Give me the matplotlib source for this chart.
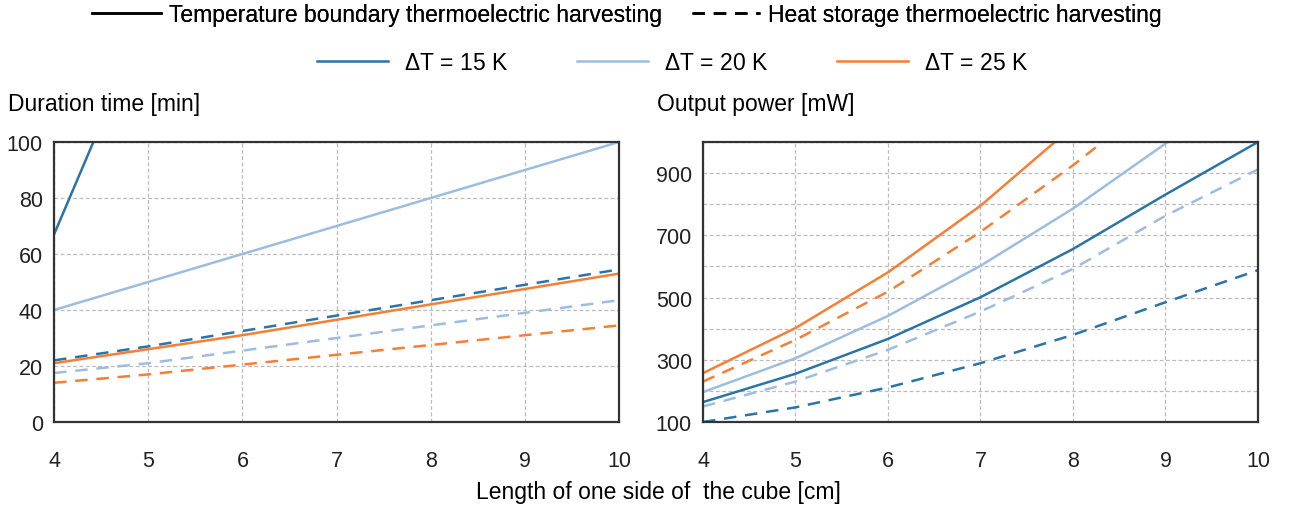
import matplotlib
matplotlib.use("Agg")
import matplotlib.pyplot as plt
from matplotlib.lines import Line2D
from matplotlib.ticker import MultipleLocator

plt.rcParams['font.family'] = ['Liberation Sans', 'DejaVu Sans']
plt.rcParams['mathtext.fontset'] = 'custom'
plt.rcParams['mathtext.it'] = 'Liberation Sans:italic'
plt.rcParams['mathtext.rm'] = 'Liberation Sans'

x = [4, 5, 6, 7, 8, 9, 10]
delta_labels = ['$\\mathit{Δ}$T = 15 K', '$\\mathit{Δ}$T = 20 K', '$\\mathit{Δ}$T = 25 K']
colors = ["#2a74a8", "#9dbde0", "#f47f35"]

# duration time [min]
dur_solid = [
    [67, 146, 230, 315, 400, 485, 570],
    [40, 50, 60, 70, 80, 90, 100],
    [21, 26, 31, 36.5, 42, 47.5, 53],
]
dur_dashed = [
    [22, 27, 32.5, 38, 43.5, 49, 54.5],
    [17.5, 21, 25.5, 30, 34.5, 39, 43.5],
    [14, 17, 20.5, 24, 27.5, 31, 34.5],
]

# output power [mW]
pow_solid = [
    [164, 255, 367, 501, 656, 831, 1000],
    [196, 305, 441, 602, 786, 995, 1220],
    [257, 402, 581, 795, 1050, 1320, 1620],
]
pow_dashed = [
    [100, 147, 211, 289, 380, 485, 588],
    [150, 230, 332, 455, 592, 763, 912],
    [230, 364, 519, 711, 925, 1160, 1400],
]

fig = plt.figure(figsize=(12.93, 5.10), dpi=100)
ax1 = fig.add_axes([0.0418, 0.1706, 0.437, 0.549])
ax2 = fig.add_axes([0.5437, 0.1706, 0.4292, 0.549])

for i in range(3):
    ax1.plot(x, dur_solid[i], color=colors[i], lw=1.8)
    ax1.plot(x, dur_dashed[i], color=colors[i], lw=1.8, dashes=(5, 3.5))
    ax2.plot(x, pow_solid[i], color=colors[i], lw=1.8)
    ax2.plot(x, pow_dashed[i], color=colors[i], lw=1.8, dashes=(5, 3.5))

ax1.set_ylim(0, 100)
ax1.yaxis.set_major_locator(MultipleLocator(20))
ax2.set_ylim(100, 1000)
ax2.set_yticks([100, 300, 500, 700, 900])
ax2.yaxis.set_minor_locator(MultipleLocator(100))

for ax in (ax1, ax2):
    ax.set_xlim(4, 10)
    ax.xaxis.set_major_locator(MultipleLocator(1))
    ax.grid(True, which='both', color='#bbbbbb', linestyle=(0, (3, 2)), lw=0.9)
    ax.tick_params(which='both', length=0, labelsize=15.5, colors='#222222')
    ax.tick_params(axis='y', pad=8)
    ax.tick_params(axis='x', pad=20)
    for s in ax.spines.values():
        s.set_color('#333333')
        s.set_linewidth(1.6)

fig.text(0.006, 0.795, "Duration time [min]", fontsize=16.5, ha='left', va='center')
fig.text(0.508, 0.795, "Output power [mW]", fontsize=16.5, ha='left', va='center')
fig.text(0.509, 0.035, "Length of one side of  the cube [cm]", fontsize=16.5,
         ha='center', va='center')

style_handles = [Line2D([], [], color='black', lw=1.8),
                 Line2D([], [], color='black', lw=1.8, dashes=(5, 3.5))]
leg1 = fig.legend(style_handles,
                  ["Temperature boundary thermoelectric harvesting",
                   "Heat storage thermoelectric harvesting"],
                  loc='center', bbox_to_anchor=(0.485, 0.97), ncol=2, frameon=False,
                  fontsize=16.5, handlelength=3.0, handletextpad=0.35,
                  columnspacing=1.3, borderpad=0, borderaxespad=0)
color_handles = [Line2D([], [], color=c, lw=1.8) for c in colors]
fig.legend(color_handles, delta_labels, loc='center', bbox_to_anchor=(0.52, 0.876),
           ncol=3, frameon=False, fontsize=16.5, handlelength=3.1,
           handletextpad=0.7, columnspacing=3.0, borderpad=0, borderaxespad=0)
fig.add_artist(leg1)

fig.savefig("out.png", dpi=100)
